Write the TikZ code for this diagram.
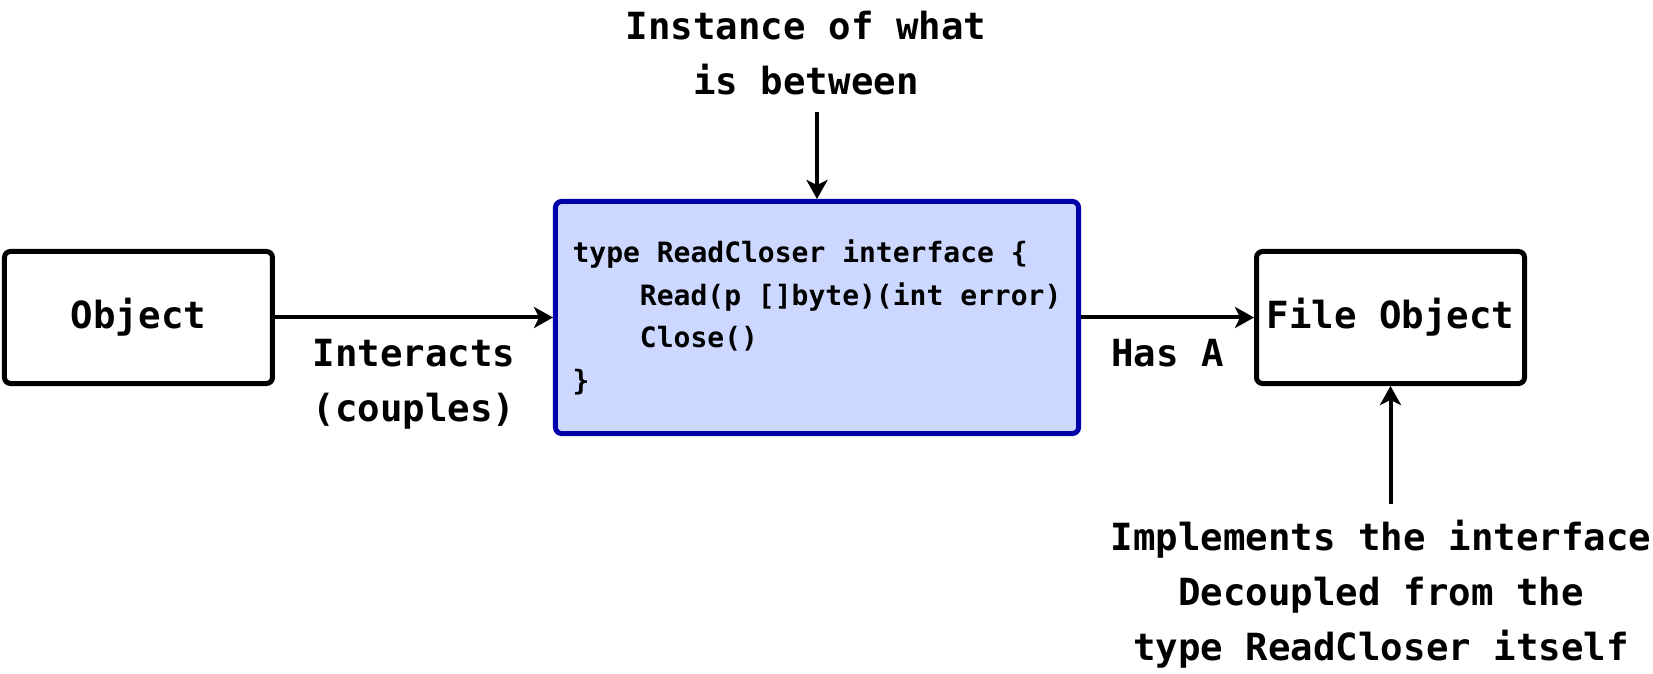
\documentclass[tikz,border=0pt]{standalone}
\usepackage{fontspec}
\setmonofont{DejaVu Sans Mono}
\usepackage{tikz}
\usetikzlibrary{arrows.meta,positioning}
\definecolor{ifacefill}{RGB}{204,216,255}
\definecolor{ifaceline}{RGB}{0,0,168}

\begin{document}
\begin{tikzpicture}[
node distance=10mm and 16mm,
box/.style={draw,rounded corners=3pt,line width=2.5pt,outer sep=1.25pt,minimum width=134pt,minimum height=66pt,align=center,font=\fontsize{18.7}{27.5}\selectfont\ttfamily\bfseries},
iface/.style={draw=ifaceline,fill=ifacefill,rounded corners=3pt,line width=2.5pt,outer sep=1.25pt,minimum width=261.5pt,minimum height=116pt,inner xsep=8.5pt,align=left,font=\fontsize{14}{21.2}\selectfont\ttfamily\bfseries},
lbl/.style={inner sep=0pt,align=center,font=\fontsize{18.7}{27.5}\selectfont\ttfamily\bfseries},
t/.style={-{Stealth[length=9.5pt,width=10.5pt,inset=2.5pt]},line width=2pt}
]
\useasboundingbox (-408.5pt,-178.25pt) rectangle (418pt,158.75pt);

\node[iface] (rc) at (0,0) {type ReadCloser interface \{\\
\phantom{0000}Read(p []byte)(int error)\\
\phantom{0000}Close()\\
\}};
\node[box,left=139pt of rc] (obj) {Object};
\node[box,right=86.5pt of rc] (file) {File Object};
\node[lbl,above=52pt of rc,xshift=-5.5pt] (inst) {Instance of what\\is between};
\node[lbl,below=67pt of file,xshift=-4.75pt] (impl) {Implements the interface\\Decoupled from the\\type ReadCloser itself};

\draw[t] (obj) -- (rc) node[lbl,midway,below=10pt] {Interacts\\(couples)};
\draw[t] (rc) -- (file) node[lbl,midway,below=10pt] {Has A};
\draw[t,shorten <=8.5pt] (inst.south -| rc) -- (rc);
\draw[t,shorten <=8pt] (impl.north -| file) -- (file);
\end{tikzpicture}
\end{document}
